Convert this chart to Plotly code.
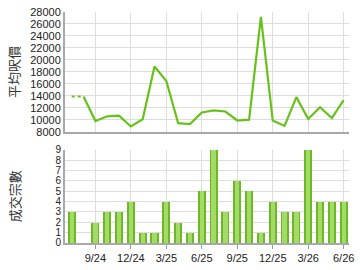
import plotly.graph_objects as go
from plotly.subplots import make_subplots

months = ["7/24","8/24","9/24","10/24","11/24","12/24","1/25","2/25","3/25","4/25","5/25","6/25",
          "7/25","8/25","9/25","10/25","11/25","12/25","1/26","2/26","3/26","4/26","5/26","6/26"]
avg_price = [13900, 13900, 9800, 10600, 10700, 8900, 10100, 18900, 16500, 9450, 9300, 11250,
             11600, 11400, 9900, 10050, 27200, 9900, 9000, 13800, 10150, 12100, 10300, 13300]
deals = [3, 0, 2, 3, 3, 4, 1, 1, 4, 2, 1, 5, 9, 3, 6, 5, 1, 4, 3, 3, 9, 4, 4, 4]
tick_labels = ["9/24", "12/24", "3/25", "6/25", "9/25", "12/25", "3/26", "6/26"]

x = list(range(len(months)))
tickvals = [months.index(t) for t in tick_labels]

fig = make_subplots(rows=2, cols=1)

green_line = "#66C21A"
# dotted part (no transactions)
fig.add_trace(go.Scatter(x=x[0:2], y=avg_price[0:2], mode="lines",
                         line=dict(color=green_line, width=2, dash="dot"), showlegend=False), row=1, col=1)
fig.add_trace(go.Scatter(x=x[1:], y=avg_price[1:], mode="lines",
                         line=dict(color=green_line, width=2.2), showlegend=False), row=1, col=1)

fig.add_trace(go.Bar(x=x, y=deals, width=0.68, marker=dict(color="#6DB825", line=dict(width=0)),
                     showlegend=False), row=2, col=1)
fig.add_trace(go.Bar(x=x, y=deals, width=0.36, marker=dict(color="#A3DA68", line=dict(width=0)),
                     showlegend=False), row=2, col=1)

xr = [-0.57, 23.45]
grid = "#DDDDDD"
axcol = "#A8A8A8"
tickfont = dict(family="Liberation Sans, Arial", size=11, color="#222222")
tickfont_small = dict(family="Liberation Sans, Arial", size=10, color="#222222")
titlefont = dict(family="Noto Sans CJK TC", size=13, color="#333333")

fig.update_layout(
    width=360, height=270,
    margin=dict(l=65, r=6, t=8, b=27),
    paper_bgcolor="white", plot_bgcolor="white",
    barmode="overlay", bargap=0,
    showlegend=False,
)

fig.update_xaxes(range=xr, tickvals=tickvals, ticktext=tick_labels, showgrid=True, gridcolor=grid,
                 gridwidth=1, showline=True, linecolor=axcol, linewidth=2, zeroline=False,
                 tickfont=tickfont, fixedrange=True)
fig.update_xaxes(showticklabels=False, ticks="", row=1, col=1)
fig.update_xaxes(ticks="outside", ticklen=4, tickcolor="#999999", row=2, col=1)

fig.update_yaxes(range=[8000, 28000], dtick=2000, tick0=8000, tickformat="d", showgrid=True, gridcolor=grid,
                 showline=True, linecolor=axcol, linewidth=2, zeroline=False, tickfont=tickfont,
                 ticks="", title=dict(text="平均呎價", font=titlefont, standoff=8), row=1, col=1)
fig.update_yaxes(range=[0, 9], dtick=1, showgrid=True, gridcolor=grid,
                 showline=True, linecolor=axcol, linewidth=2, zeroline=False, tickfont=tickfont_small,
                 ticks="", title=dict(text="成交宗數", font=titlefont, standoff=32), row=2, col=1)

fig.layout.yaxis.domain = [0.481, 1.0]
fig.layout.yaxis2.domain = [0.0, 0.404]

fig.write_html("out.html")
